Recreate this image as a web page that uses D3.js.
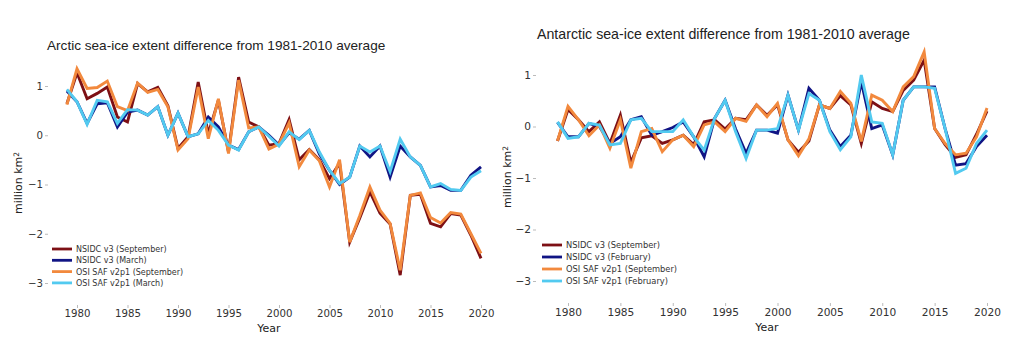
<!DOCTYPE html>
<html>
<head>
<meta charset="utf-8">
<script src="https://cdn.jsdelivr.net/npm/d3@7"></script>
<style>
body { margin: 0; background: #fff; }
.tick line { stroke: #bbb; }
.tick text { fill: #333; font-family: "DejaVu Sans", sans-serif; font-size: 10.3px; }
.title { font-family: "Liberation Sans", Arial, sans-serif; fill: #222; }
.lab { font-family: "DejaVu Sans", sans-serif; fill: #222; font-size: 11px; }
.leg { font-family: "DejaVu Sans", sans-serif; fill: #333; }
</style>
</head>
<body>
<div id="chart"></div>
<script>
var years = d3.range(1979, 2021);
var x_ticks = [1980, 1985, 1990, 1995, 2000, 2005, 2010, 2015, 2020];
var y_ticks = [1, 0, -1, -2, -3];

var arctic_nsidc_sep = [0.64, 1.27, 0.74, 0.85, 0.98, 0.37, 0.27, 1.05, 0.88, 0.97, 0.6, -0.27, -0.03, 1.08, 0.03, 0.71, -0.34, 1.18, 0.27, 0.17, -0.2, -0.17, 0.32, -0.5, -0.29, -0.5, -0.88, -0.57, -2.17, -1.68, -1.15, -1.58, -1.8, -2.84, -1.22, -1.2, -1.79, -1.86, -1.59, -1.62, -2.03, -2.5];
var arctic_nsidc_mar = [0.9, 0.68, 0.24, 0.64, 0.66, 0.17, 0.47, 0.51, 0.41, 0.58, 0.0, 0.45, -0.03, 0.03, 0.37, 0.17, -0.2, -0.29, 0.07, 0.17, 0.0, -0.2, 0.05, -0.08, 0.1, -0.38, -0.71, -1.0, -0.85, -0.22, -0.44, -0.22, -0.85, -0.22, -0.44, -0.61, -1.05, -1.02, -1.12, -1.12, -0.81, -0.64];
var arctic_osi_sep = [0.62, 1.35, 0.95, 0.97, 1.1, 0.58, 0.5, 1.06, 0.87, 0.93, 0.58, -0.3, -0.07, 0.98, -0.07, 0.74, -0.37, 1.12, 0.15, 0.17, -0.28, -0.18, 0.25, -0.64, -0.3, -0.52, -1.05, -0.5, -2.17, -1.63, -1.05, -1.52, -1.79, -2.74, -1.22, -1.17, -1.67, -1.78, -1.57, -1.6, -2.0, -2.4];
var arctic_osi_mar = [0.93, 0.68, 0.22, 0.71, 0.68, 0.24, 0.52, 0.51, 0.41, 0.58, 0.0, 0.45, -0.03, 0.03, 0.3, 0.1, -0.2, -0.3, 0.07, 0.17, -0.02, -0.22, 0.07, -0.09, 0.1, -0.34, -0.71, -0.98, -0.85, -0.22, -0.34, -0.22, -0.74, -0.08, -0.44, -0.61, -1.05, -0.98, -1.1, -1.12, -0.85, -0.72];

var antarctic_nsidc_sep = [-0.28, 0.33, 0.13, -0.1, 0.09, -0.33, 0.22, -0.7, -0.22, -0.18, -0.33, -0.26, -0.17, -0.35, 0.09, 0.13, -0.05, 0.16, 0.13, 0.42, 0.22, 0.42, -0.26, -0.5, -0.28, 0.42, 0.35, 0.6, 0.42, -0.33, 0.48, 0.35, 0.29, 0.7, 0.9, 1.29, -0.04, -0.35, -0.6, -0.55, -0.15, 0.3];
var antarctic_nsidc_feb = [0.08, -0.2, -0.2, 0.06, 0.0, -0.33, -0.2, 0.13, 0.19, -0.17, -0.1, -0.02, 0.09, -0.2, -0.59, 0.16, 0.51, -0.05, -0.52, -0.07, -0.07, -0.13, 0.61, -0.07, 0.74, 0.51, -0.07, -0.39, -0.17, 0.87, -0.04, 0.03, -0.55, 0.51, 0.77, 0.77, 0.77, -0.04, -0.75, -0.72, -0.39, -0.17];
var antarctic_osi_sep = [-0.28, 0.39, 0.13, -0.18, 0.03, -0.42, 0.13, -0.81, -0.1, -0.04, -0.49, -0.26, -0.17, -0.39, 0.03, 0.09, -0.1, 0.16, 0.1, 0.42, 0.19, 0.45, -0.26, -0.57, -0.24, 0.42, 0.35, 0.68, 0.45, -0.29, 0.61, 0.51, 0.29, 0.77, 0.97, 1.45, -0.04, -0.33, -0.55, -0.52, -0.2, 0.36];
var antarctic_osi_feb = [0.09, -0.23, -0.2, 0.06, 0.03, -0.36, -0.33, 0.13, 0.16, -0.1, -0.1, -0.1, 0.13, -0.2, -0.46, 0.16, 0.51, -0.1, -0.62, -0.07, -0.07, -0.04, 0.61, -0.07, 0.64, 0.51, -0.1, -0.45, -0.2, 1.0, 0.09, 0.06, -0.55, 0.51, 0.77, 0.77, 0.74, -0.04, -0.91, -0.81, -0.33, -0.07];

var colors = ['#7d1015', '#101484', '#f2893d', '#52caf0'];

var svg = d3.select('#chart').append('svg')
    .attr('width', 1024)
    .attr('height', 354);

function create_chart(opt, series, names){
    var xScale = d3.scaleLinear().domain([1980, 2020]).range(opt.xr);
    var yScale = d3.scaleLinear().domain([1, -3]).range(opt.yr);

    var g = svg.append('g');

    var yAxis = d3.axisLeft(yScale).tickValues(y_ticks).tickFormat(d3.format('d')).tickSize(3).tickPadding(2);
    g.append('g')
        .attr('transform', 'translate(' + opt.yx + ',0)')
        .call(yAxis)
        .call(function(s){ s.select('.domain').remove(); })
        .selectAll('text').style('font-size', opt.tick + 'px');

    var xAxis = d3.axisBottom(xScale).tickValues(x_ticks).tickFormat(d3.format('d')).tickSize(3).tickPadding(2);
    g.append('g')
        .attr('transform', 'translate(0,' + opt.xy + ')')
        .call(xAxis)
        .call(function(s){ s.select('.domain').remove(); })
        .selectAll('text').style('font-size', opt.tick + 'px');

    var line = d3.line()
        .x(function(d, i){ return xScale(years[i]); })
        .y(function(d){ return yScale(d); });

    series.forEach(function(s, i){
        g.append('path')
            .attr('d', line(s))
            .attr('fill', 'none')
            .attr('stroke', colors[i])
            .attr('stroke-width', 2.9)
            .attr('stroke-linejoin', 'miter');
    });

    g.append('text').attr('class', 'title')
        .attr('x', opt.tx).attr('y', opt.ty)
        .style('font-size', opt.tsize + 'px')
        .text(opt.title);

    g.append('text').attr('class', 'lab')
        .attr('x', opt.yearx).attr('y', opt.yeary)
        .attr('text-anchor', 'middle')
        .text('Year');

    var yl = g.append('text').attr('class', 'lab')
        .attr('text-anchor', 'middle')
        .attr('transform', 'translate(' + opt.ylx + ',' + opt.yly + ') rotate(-90)');
    yl.append('tspan').text('million km');
    yl.append('tspan').attr('dy', '-0.4em').style('font-size', '7.5px').text('2');

    names.forEach(function(n, i){
        var yy = opt.ly + i * opt.lstep;
        g.append('line')
            .attr('x1', opt.lx).attr('x2', opt.lx + 20)
            .attr('y1', yy).attr('y2', yy)
            .attr('stroke', colors[i]).attr('stroke-width', 2.8);
        g.append('text').attr('class', 'leg')
            .attr('x', opt.lx + 24).attr('y', yy + 3)
            .style('font-size', opt.lsize + 'px')
            .text(n);
    });
}

create_chart({
    xr: [77, 481], yr: [86, 283], yx: 48, xy: 305, tick: 10.2,
    title: 'Arctic sea-ice extent difference from 1981-2010 average',
    tx: 47, ty: 50, tsize: 13.6,
    yearx: 269, yeary: 332, ylx: 22, yly: 183,
    lx: 52, ly: 249, lstep: 11.3, lsize: 8
}, [arctic_nsidc_sep, arctic_nsidc_mar, arctic_osi_sep, arctic_osi_mar],
['NSIDC v3 (September)', 'NSIDC v3 (March)', 'OSI SAF v2p1 (September)', 'OSI SAF v2p1 (March)']);

create_chart({
    xr: [568, 987], yr: [75, 281], yx: 536, xy: 303, tick: 10.6,
    title: 'Antarctic sea-ice extent difference from 1981-2010 average',
    tx: 537, ty: 39, tsize: 14.2,
    yearx: 767, yeary: 331, ylx: 511, yly: 177,
    lx: 542, ly: 245, lstep: 12, lsize: 8.3
}, [antarctic_nsidc_sep, antarctic_nsidc_feb, antarctic_osi_sep, antarctic_osi_feb],
['NSIDC v3 (September)', 'NSIDC v3 (February)', 'OSI SAF v2p1 (September)', 'OSI SAF v2p1 (February)']);
</script>
</body>
</html>
